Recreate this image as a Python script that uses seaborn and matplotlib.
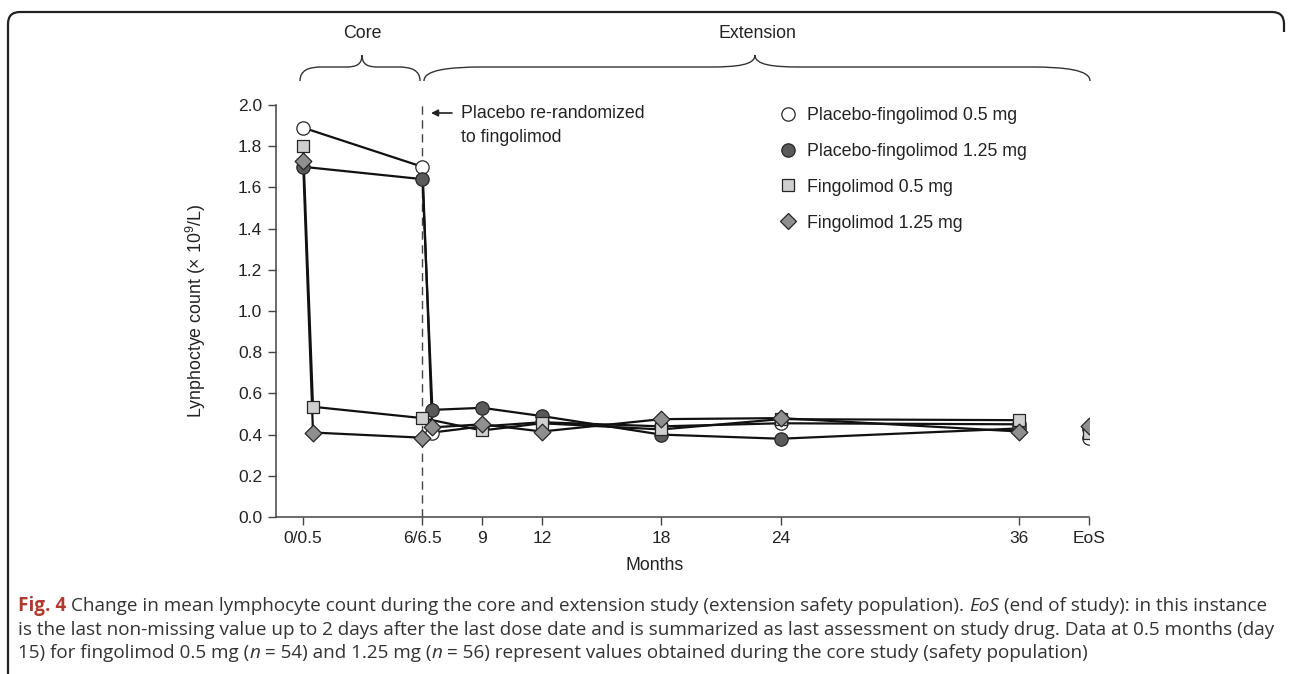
import numpy as np
import pandas as pd
import matplotlib
matplotlib.use("Agg")
import matplotlib.pyplot as plt
import seaborn as sns
from matplotlib.path import Path
from matplotlib.patches import PathPatch
from matplotlib.lines import Line2D

# ---------------- data ----------------
groups = ["Placebo-fingolimod 0.5 mg", "Placebo-fingolimod 1.25 mg",
          "Fingolimod 0.5 mg", "Fingolimod 1.25 mg"]

pf05_months = [0, 6, 6.5, 9, 12, 18, 24, 36]
pf05_values = [1.89, 1.70, 0.41, 0.44, 0.46, 0.44, 0.455, 0.45]

pf125_months = [0, 6, 6.5, 9, 12, 18, 24, 36]
pf125_values = [1.70, 1.64, 0.52, 0.53, 0.49, 0.40, 0.38, 0.43]

f05_months = [0, 0.5, 6, 9, 12, 18, 24, 36]
f05_values = [1.80, 0.535, 0.48, 0.42, 0.455, 0.425, 0.475, 0.47]

f125_months = [0, 0.5, 6, 6.5, 9, 12, 18, 24, 36]
f125_values = [1.73, 0.41, 0.385, 0.435, 0.45, 0.415, 0.475, 0.48, 0.415]

eos_month = 39.5
eos_values = [0.385, 0.425, 0.41, 0.44]

xtick_months = [0, 6, 9, 12, 18, 24, 36, 39.5]
xtick_labels = ["0/0.5", "6/6.5", "9", "12", "18", "24", "36", "EoS"]
ytick_values = [0.0, 0.2, 0.4, 0.6, 0.8, 1.0, 1.2, 1.4, 1.6, 1.8, 2.0]

series_months = [pf05_months, pf125_months, f05_months, f125_months]
series_values = [pf05_values, pf125_values, f05_values, f125_values]

# ---------------- style ----------------
sns.set_style("ticks")
plt.rcParams["font.family"] = ["Liberation Sans", "DejaVu Sans"]
plt.rcParams["mathtext.fontset"] = "custom"
plt.rcParams["mathtext.rm"] = "Liberation Sans"
plt.rcParams["mathtext.it"] = "Liberation Sans:italic"

markers = ["o", "o", "s", "D"]
faces = ["#ffffff", "#5a5a5a", "#cfcfcf", "#8f8f8f"]
msizes = [9.6, 9.6, 9.1, 8.5]
EDGE = "#262626"
TXT = "#222222"
FS = 12.8

W, H = 1290, 674
fig = plt.figure(figsize=(W / 100, H / 100), dpi=100)
ax_l, ax_r, ax_t, ax_b = 276, 1089, 105, 517
ax = fig.add_axes([ax_l / W, 1 - ax_b / H, (ax_r - ax_l) / W, (ax_b - ax_t) / H])

# lines
for m, v in zip(series_months, series_values):
    df = pd.DataFrame({"month": m, "value": v})
    sns.lineplot(data=df, x="month", y="value", ax=ax, color="#111111",
                 linewidth=1.6, sort=False, estimator=None, zorder=2)

# markers
for i, (m, v) in enumerate(zip(series_months, series_values)):
    df = pd.DataFrame({"month": list(m) + [eos_month],
                       "value": list(v) + [eos_values[i]]})
    sns.scatterplot(data=df, x="month", y="value", ax=ax, marker=markers[i],
                    s=msizes[i] ** 2, color=faces[i], edgecolor=EDGE,
                    linewidth=0.9, zorder=3 + i, legend=False)

ax.axvline(6, color="#444444", lw=1.0, ls=(0, (6, 4)), zorder=1)

ax.set_xlim(-1.36, eos_month)
ax.set_ylim(0, 2.0)
ax.set_xticks(xtick_months)
ax.set_xticklabels(xtick_labels)
ax.set_yticks(ytick_values)
ax.set_yticklabels([f"{t:.1f}" for t in ytick_values])
ax.tick_params(direction="out", length=6, width=1.0, color="#444444",
               labelsize=12.5, labelcolor=TXT, pad=4)
sns.despine(ax=ax)
for sp in ["left", "bottom"]:
    ax.spines[sp].set_color("#444444")
    ax.spines[sp].set_linewidth(1.1)

ax.set_xlabel("Months", fontsize=FS, color=TXT)
ax.set_ylabel("Lynphoctye count (× 10$^{9}$/L)", fontsize=FS, color=TXT)
ax.xaxis.set_label_coords((655 - ax_l) / (ax_r - ax_l), (ax_b - 557) / (ax_b - ax_t))
ax.yaxis.set_label_coords((208 - ax_l) / (ax_r - ax_l), 0.5)

# legend
handles = [Line2D([], [], ls="none", marker=markers[i], ms=msizes[i],
                  mfc=faces[i], mec=EDGE, mew=0.9) for i in range(4)]
ax.legend(handles, groups, loc="upper left", frameon=False, fontsize=FS,
          bbox_to_anchor=(779 / W, 1 - 107 / H), bbox_transform=fig.transFigure,
          handlelength=1.0, handletextpad=0.55, labelspacing=1.06, borderpad=0,
          borderaxespad=0, labelcolor=TXT)

# ---------------- overlay (pixel coordinates) ----------------
ov = fig.add_axes([0, 0, 1, 1], zorder=5)
ov.set_xlim(0, W)
ov.set_ylim(H, 0)
ov.axis("off")
ov.patch.set_alpha(0)

# frame
r = 12
fx0, fy0, fx1 = 8, 12, 1284
verts = [(fx0, H + 10), (fx0, fy0 + r), (fx0, fy0), (fx0 + r, fy0),
         (fx1 - r, fy0), (fx1, fy0), (fx1, fy0 + r), (fx1, fy0 + 20)]
codes = [Path.MOVETO, Path.LINETO, Path.CURVE3, Path.CURVE3,
         Path.LINETO, Path.CURVE3, Path.CURVE3, Path.LINETO]
ov.add_patch(PathPatch(Path(verts, codes), fill=False, lw=1.6, color="#222222"))


def brace(x0, x1, xc, dxe, dxt, y_end=81, y_mid=67, y_tip=55):
    v = [(x0, y_end),
         (x0, y_mid + 3), (x0 + 0.4 * dxe, y_mid), (x0 + dxe, y_mid),
         (xc - dxt, y_mid),
         (xc - 0.4 * dxt, y_mid), (xc, y_mid - 2), (xc, y_tip),
         (xc, y_mid - 2), (xc + 0.4 * dxt, y_mid), (xc + dxt, y_mid),
         (x1 - dxe, y_mid),
         (x1 - 0.4 * dxe, y_mid), (x1, y_mid + 3), (x1, y_end)]
    c = [Path.MOVETO, Path.CURVE4, Path.CURVE4, Path.CURVE4, Path.LINETO,
         Path.CURVE4, Path.CURVE4, Path.CURVE4, Path.CURVE4, Path.CURVE4,
         Path.CURVE4, Path.LINETO, Path.CURVE4, Path.CURVE4, Path.CURVE4]
    ov.add_patch(PathPatch(Path(v, c), fill=False, lw=1.0, color="#333333"))


brace(300, 420, 362, 22, 16)
brace(424, 1090, 755, 60, 45)
ov.text(362, 33, "Core", ha="center", va="center", fontsize=FS, color=TXT)
ov.text(757, 33, "Extension", ha="center", va="center", fontsize=FS, color=TXT)

# annotation
ov.annotate("", xy=(431, 113), xytext=(452, 113),
            arrowprops=dict(arrowstyle="-|>", color="#222222", lw=1.2,
                            mutation_scale=10, shrinkA=0, shrinkB=0))
ov.text(461, 113, "Placebo re-randomized", ha="left", va="center", fontsize=FS, color=TXT)
ov.text(461, 137, "to fingolimod", ha="left", va="center", fontsize=FS, color=TXT)

# caption
fig.canvas.draw()
rend = fig.canvas.get_renderer()
CAP = ["Open Sans", "DejaVu Sans"]
RED = "#b03a2e"
GRAY = "#333333"

line1 = [("Fig. 4", dict(weight="bold", color=RED)),
         (" Change in mean lymphocyte count during the core and extension study (extension safety population). ", {}),
         ("EoS", dict(style="italic")),
         (" (end of study): in this instance", {})]
line2 = [("is the last non-missing value up to 2 days after the last dose date and is summarized as last assessment on study drug. Data at 0.5 months (day", {})]
line3 = [("15) for fingolimod 0.5 mg (", {}), ("n", dict(style="italic")),
         (" = 54) and 1.25 mg (", {}), ("n", dict(style="italic")),
         (" = 56) represent values obtained during the core study (safety population)", {})]


def txtw(s, size, kw):
    t = ov.text(0, 0, s, fontsize=size, family=CAP, **kw)
    w = t.get_window_extent(rend).width
    t.remove()
    return w


def runs(rs, x, y, size, draw):
    sp = txtw("a a", size, {}) - txtw("aa", size, {})
    for s, kw in rs:
        lead = len(s) - len(s.lstrip(" "))
        trail = len(s) - len(s.rstrip(" "))
        core = s.strip(" ")
        x += lead * sp
        kk = dict(color=GRAY)
        kk.update(kw)
        if draw:
            ov.text(x, y, core, fontsize=size, family=CAP, ha="left",
                    va="baseline", **kk)
        x += txtw(core, size, kk)
        x += trail * sp
    return x


x0 = 18
w12 = runs(line2, x0, 0, 12, False) - x0
size = 12 * (1268 - x0) / w12
for rs, yb in [(line1, 611), (line2, 635), (line3, 658)]:
    runs(rs, x0, yb, size, True)

fig.savefig("out.png", dpi=100)
